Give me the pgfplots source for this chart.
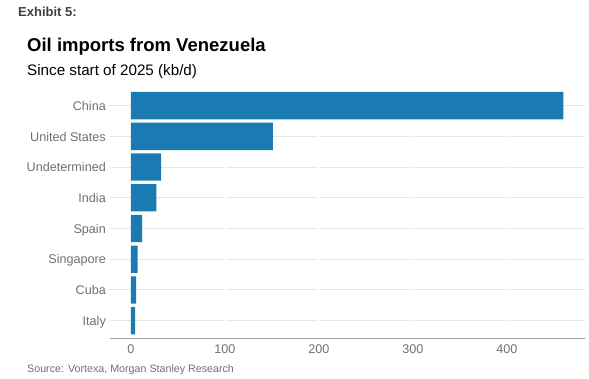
\documentclass[border=0pt]{standalone}
\usepackage{fontspec}
\setmainfont{Liberation Sans}
\usepackage{pgfplots}
\pgfplotsset{compat=1.18}
\definecolor{barblue}{HTML}{1A7AB2}
\definecolor{labgrey}{HTML}{707070}
\definecolor{gridgrey}{HTML}{E6E6E6}
\definecolor{axgrey}{HTML}{A0A0A0}
\definecolor{exgrey}{HTML}{404040}
\begin{document}
\begin{tikzpicture}
\path[use as bounding box] (0,0) rectangle (589bp,379bp);
\begin{axis}[
  at={(110bp,41bp)}, anchor=south west,
  scale only axis, width=475bp, height=247.7bp,
  xmin=-22.3, xmax=483, ymin=-0.565, ymax=7.5,
  xbar, bar width=27.3bp,
  axis x line*=bottom, axis y line*=left,
  x axis line style={draw=axgrey, line width=0.9bp, -},
  y axis line style={draw=none},
  major tick length=0pt,
  xtick={0,100,200,300,400},
  ytick={0,1,2,3,4,5,6,7},
  yticklabels={Italy,Cuba,Singapore,Spain,India,Undetermined,United States,China},
  ymajorgrids,
  y grid style={gridgrey, line width=0.9bp},
  extra x ticks={100,200,300,400},
  extra x tick labels={},
  extra x tick style={grid=major, major grid style={white, line width=1.6bp}},
  /pgf/number format/assume math mode=true,
  tick label style={font=\fontsize{12.6bp}{14bp}\selectfont, text=labgrey, inner sep=0pt},
  xticklabel style={anchor=north, yshift=-7bp},
  yticklabel style={anchor=base east, xshift=-4bp, yshift=-4.7bp},
]
\addplot[fill=barblue, draw=none] coordinates {
  (4.5,0) (5.5,1) (7,2) (12,3) (27,4) (32,5) (151,6) (460,7)
};
\end{axis}
\node[anchor=base west, inner sep=0pt, text=exgrey, font=\bfseries\fontsize{13bp}{15bp}\selectfont] at (18bp,362.3bp) {Exhibit 5:};
\node[anchor=base west, inner sep=0pt, text=black, font=\bfseries\fontsize{18.5bp}{21bp}\selectfont] at (27bp,327.6bp) {Oil imports from Venezuela};
\node[anchor=base west, inner sep=0pt, text=black, font=\fontsize{15.2bp}{17bp}\selectfont] at (27bp,303bp) {Since start of 2025 (kb/d)};
\node[anchor=base west, inner sep=0pt, text=labgrey, font=\fontsize{10.7bp}{12bp}\selectfont] at (27bp,7bp) {Source: Vortexa, Morgan Stanley Research};
\end{tikzpicture}
\end{document}
